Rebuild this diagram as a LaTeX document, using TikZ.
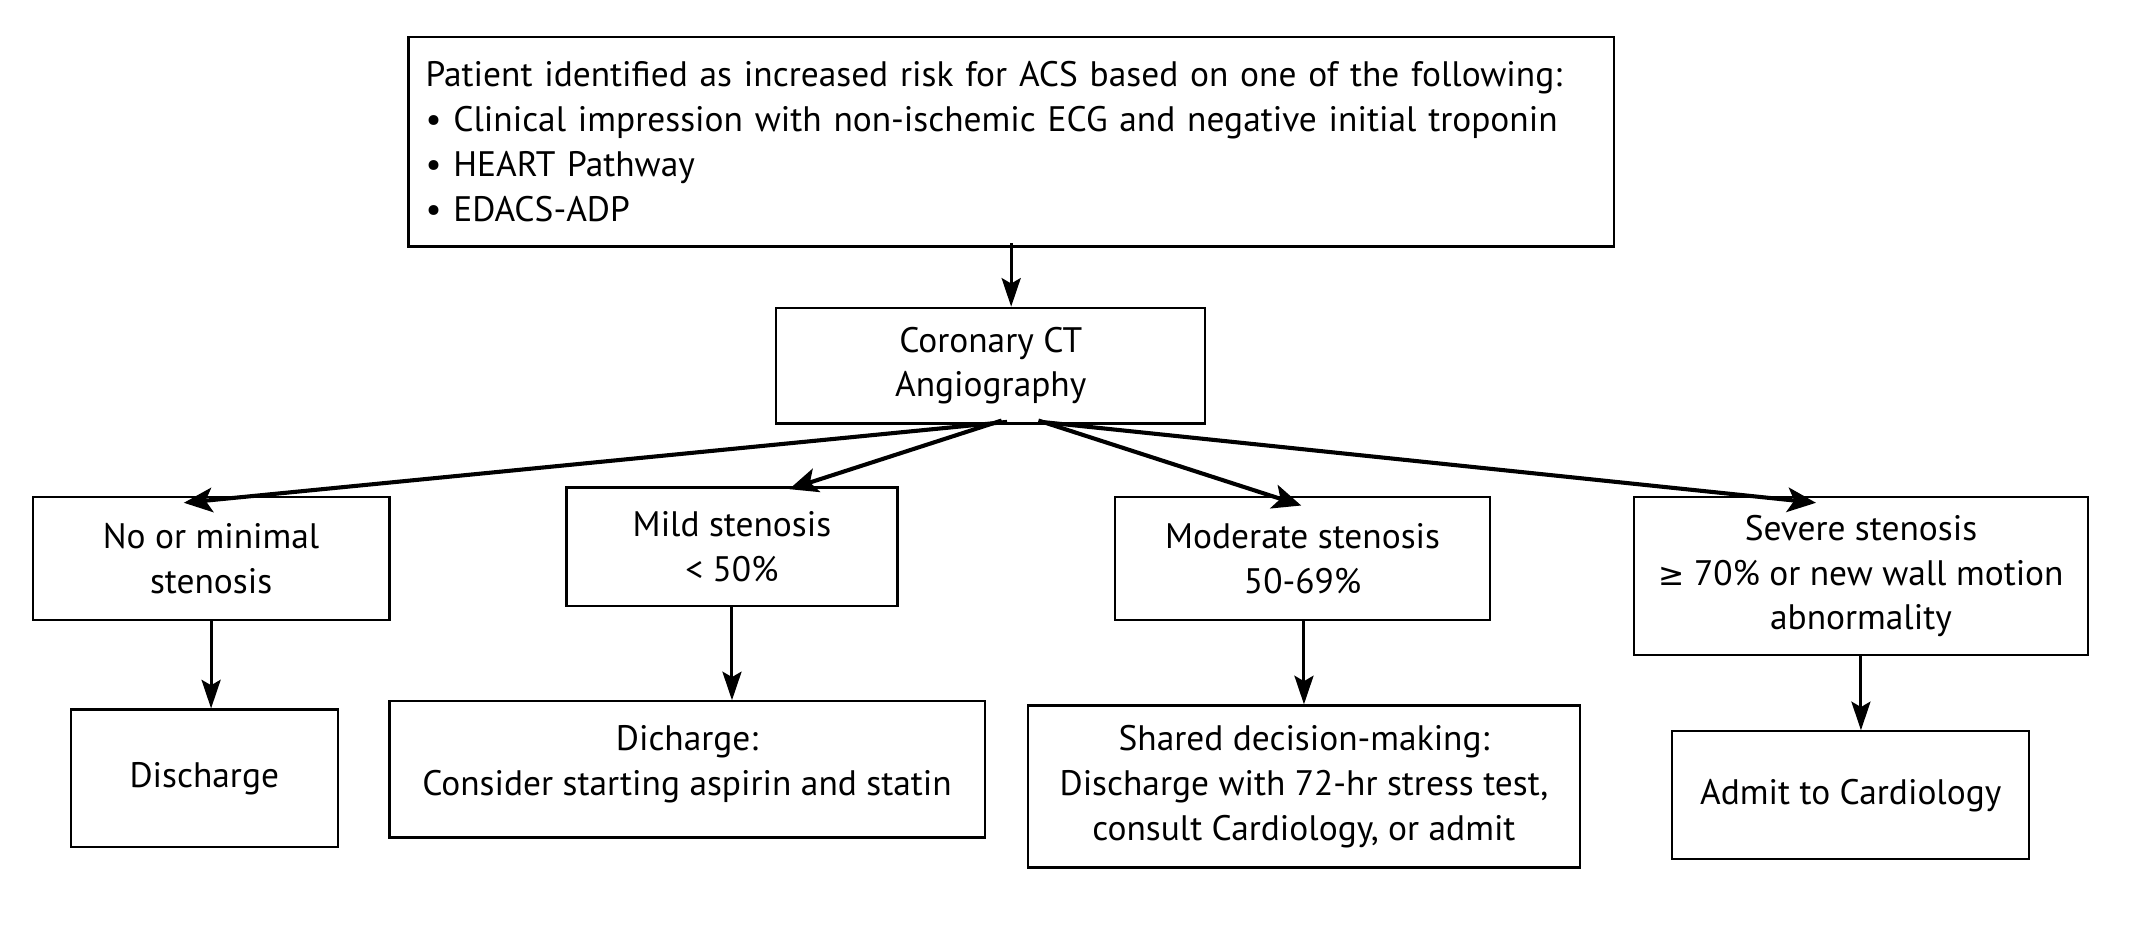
\documentclass[tikz,border=0pt]{standalone}
\usepackage{fontspec}
\setmainfont{PT Sans}
\newfontfamily\symf{DejaVu Sans}
\usetikzlibrary{arrows.meta,calc}
\begin{document}
\begin{tikzpicture}[x=1pt,y=-1pt,
  box/.style={draw=black,line width=1.6pt,rectangle,inner sep=0pt,align=center,
    font=\fontsize{26}{33}\selectfont},
  arr/.style={line width=3pt,-{Stealth[length=21pt,width=18pt,inset=5pt]}},
  varr/.style={line width=2.2pt,-{Stealth[length=21pt,width=14pt,inset=4pt]}}]
\useasboundingbox[fill=white] (0,0) rectangle (1567,684.4);
\node[box,minimum width=885pt,minimum height=154pt,align=left,text width=860pt] (top) at (742.5,104)
 {Patient identified as increased risk for ACS based on one of the following:\\
  • Clinical impression with non-ischemic ECG and negative initial troponin\\
  • HEART Pathway\\
  • EDACS-ADP};
\node[box,minimum width=315pt,minimum height=85pt] (ct) at (727.5,268.5) {Coronary CT\\Angiography};
\node[box,minimum width=262pt,minimum height=90pt] (b1) at (155,410) {No or minimal\\stenosis};
\node[box,minimum width=243pt,minimum height=87pt] (b2) at (537.5,401.5) {Mild stenosis\\< 50\%};
\node[box,minimum width=275pt,minimum height=90pt] (b3) at (956.5,410) {Moderate stenosis\\50-69\%};
\node[box,minimum width=333pt,minimum height=116pt] (b4) at (1366.5,423) {Severe stenosis\\{\symf\fontsize{23}{33}\selectfont ≥} 70\% or new wall motion\\abnormality};
\node[box,minimum width=196pt,minimum height=101pt] (c1) at (150,571.5) {Discharge};
\node[box,minimum width=437pt,minimum height=100pt] (c2) at (504.5,565) {Dicharge:\\Consider starting aspirin and statin\rule[-13pt]{0pt}{0pt}};
\node[box,minimum width=405pt,minimum height=119pt] (c3) at (957.5,577.5) {Shared decision-making:\\Discharge with 72-hr stress test,\\consult Cardiology, or admit};
\node[box,minimum width=262pt,minimum height=94pt] (c4) at (1359,584) {Admit to Cardiology};
\draw[varr] ([xshift=15pt,yshift=3pt]ct.north |- top.south) -- ([xshift=15pt]ct.north);
\draw[arr] ([xshift=12pt,yshift=2pt]ct.south) -- ([xshift=-20pt,yshift=-5pt]b1.north);
\draw[arr] ([xshift=8pt,yshift=3pt]ct.south) -- ([xshift=42pt,yshift=-2pt]b2.north);
\draw[arr] ([xshift=35pt,yshift=3pt]ct.south) -- ([xshift=-1pt,yshift=-7pt]b3.north);
\draw[arr] ([xshift=37pt,yshift=2pt]ct.south) -- ([xshift=-33pt,yshift=-5pt]b4.north);
\draw[varr] (b1.south) -- (b1.south |- c1.north);
\draw[varr] (b2.south) -- (b2.south |- c2.north);
\draw[varr] ([xshift=1pt]b3.south) -- ([xshift=1pt]b3.south |- c3.north);
\draw[varr] (b4.south) -- (b4.south |- c4.north);
\end{tikzpicture}
\end{document}
